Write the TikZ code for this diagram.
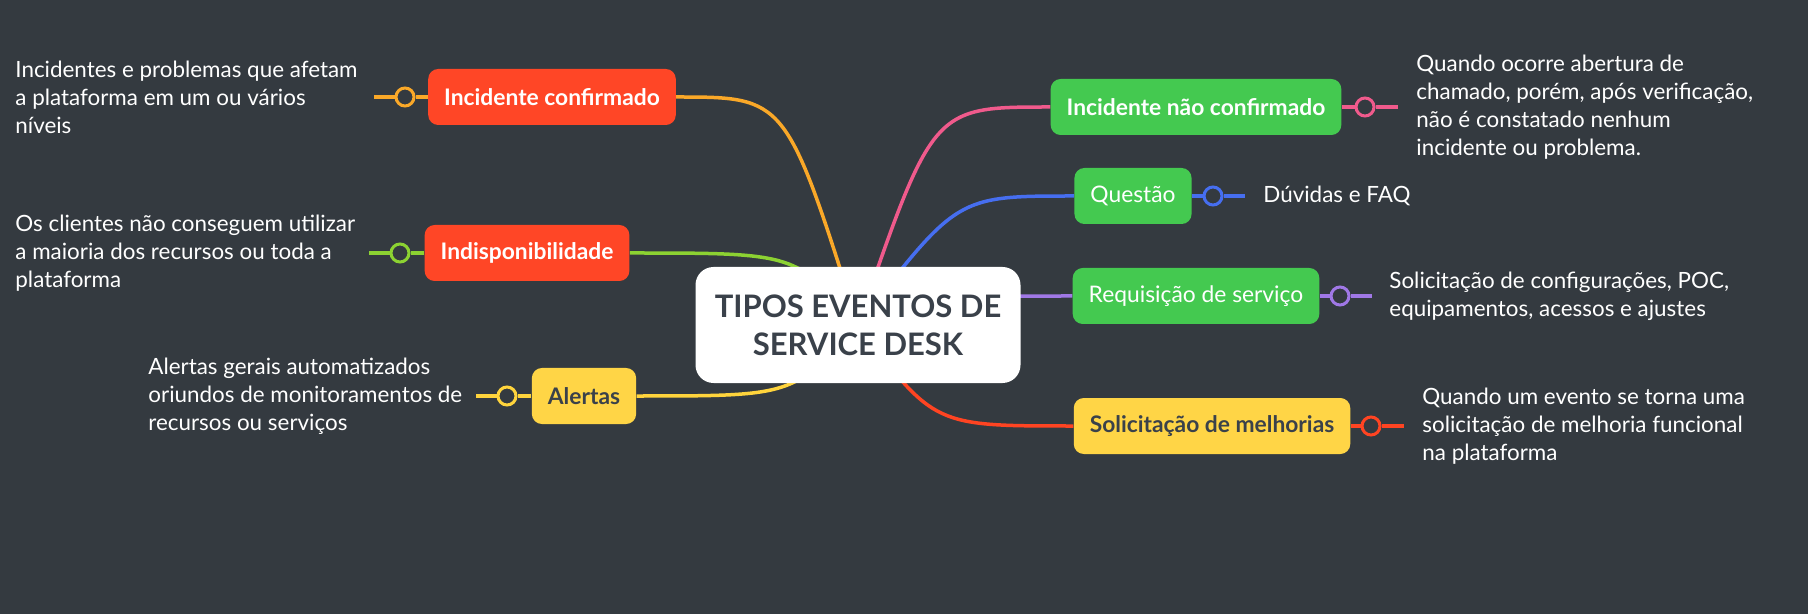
\documentclass[tikz,border=0pt]{standalone}
\usepackage{fontspec}
\setmainfont{Lato}
\usetikzlibrary{positioning}
\definecolor{MapBg}{RGB}{52,58,64}
\definecolor{MapInk}{RGB}{58,65,74}
\definecolor{TopicRed}{RGB}{255,70,38}
\definecolor{TopicGreen}{RGB}{68,201,80}
\definecolor{TopicYellow}{RGB}{255,213,70}
\definecolor{WireOrange}{RGB}{250,168,40}
\definecolor{WireLime}{RGB}{140,210,50}
\definecolor{WireYellow}{RGB}{255,212,60}
\definecolor{WirePink}{RGB}{240,90,140}
\definecolor{WireBlue}{RGB}{70,110,240}
\definecolor{WirePurple}{RGB}{160,120,230}
\definecolor{WireRed}{RGB}{255,68,34}
\pgfdeclarelayer{back}
\pgfsetlayers{back,main}

\begin{document}
\begin{tikzpicture}[
x=0.5pt,
y=-0.5pt,
hub/.style={
fill=white,
rounded corners=9pt,
minimum width=162.5pt,
minimum height=58pt,
align=center,
text=MapInk,
font=\fontsize{15.5}{19}\selectfont\bfseries
},
topic/.style={
fill=#1,
rounded corners=5pt,
minimum height=28pt,
inner xsep=8pt,
font=\fontsize{11.4}{13}\selectfont
},
bold topic/.style={
topic=#1,
font=\fontsize{11.4}{13}\selectfont\bfseries
},
knob/.style={
circle,
draw=#1,
line width=1.5pt,
fill=MapBg,
minimum size=9pt,
inner sep=0pt
},
wire/.style={
draw=#1,
line width=1.75pt
},
note/.style={
align=left,
text=white,
inner sep=0pt,
font=\fontsize{11.2}{14}\selectfont
}
]

\useasboundingbox (0,0) rectangle (1808,614);

% central topic
\node[hub] (root) at (858,325) {TIPOS EVENTOS DE\\SERVICE DESK};

% left side
\node[bold topic=TopicRed, text=white] (ic) at (552,97) {Incidente confirmado};
\node[bold topic=TopicRed, text=white] (ind) at (527,253) {Indisponibilidade};
\node[bold topic=TopicYellow, text=MapInk] (al) at (584,396) {Alertas};

\node[knob=WireOrange] (ick) at (405,97) {};
\node[knob=WireLime] (indk) at (400,253) {};
\node[knob=WireYellow] (alk) at (507,396) {};
\coordinate (icend) at (374,97);
\coordinate (indend) at (369,253);
\coordinate (alend) at (476,396);

\node[note, anchor=west] (icnote) at (15,97) {Incidentes e problemas que afetam\\a plataforma em um ou vários\\níveis};
\node[note, anchor=west] (indnote) at (15,253) {Os clientes não conseguem utilizar\\a maioria dos recursos ou toda a\\plataforma};
\node[note, anchor=west] (alnote) at (148,396) {Alertas gerais automatizados\\oriundos de monitoramentos de\\recursos ou serviços};

% right side
\node[bold topic=TopicGreen, text=white] (inc) at (1196,107) {Incidente não confirmado};
\node[topic=TopicGreen, text=white] (q) at (1133,196) {Questão};
\node[topic=TopicGreen, text=white] (rs) at (1196,296) {Requisição de serviço};
\node[bold topic=TopicYellow, text=MapInk] (sm) at (1212,426) {Solicitação de melhorias};

\node[knob=WirePink] (inck) at (1365,107) {};
\node[knob=WireBlue] (qk) at (1213,196) {};
\node[knob=WirePurple] (rsk) at (1340,296) {};
\node[knob=WireRed] (smk) at (1371,426) {};
\coordinate (incend) at (1398,107);
\coordinate (qend) at (1245,196);
\coordinate (rsend) at (1372,296);
\coordinate (smend) at (1404,426);

\node[note, anchor=west] (incnote) at (1416,107) {Quando ocorre abertura de\\chamado, porém, após verificação,\\não é constatado nenhum\\incidente ou problema.};
\node[note, anchor=west] (qnote) at (1263,196) {Dúvidas e FAQ};
\node[note, anchor=west] (rsnote) at (1389,296) {Solicitação de configurações, POC,\\equipamentos, acessos e ajustes};
\node[note, anchor=west] (smnote) at (1422,426) {Quando um evento se torna uma\\solicitação de melhoria funcional\\na plataforma};

\begin{pgfonlayer}{back}
\fill[MapBg] (0,0) rectangle (1808,614);
% branches
\draw[wire=WireOrange] (root.center) .. controls (786,97) .. (ic.east);
\draw[wire=WireLime] (root.center) .. controls (796,253) .. (ind.east);
\draw[wire=WireYellow] (root.center) .. controls (793,396) .. (al.east);
\draw[wire=WirePink] (root.center) .. controls (933,107) .. (inc.west);
\draw[wire=WireBlue] (root.center) .. controls (957,196) .. (q.west);
\draw[wire=WirePurple] (root.center) .. controls (960,296) .. (rs.west);
\draw[wire=WireRed] (root.center) .. controls (934,426) .. (sm.west);
% stubs
\draw[wire=WireOrange] (ic) -- (ick) -- (icend);
\draw[wire=WireLime] (ind) -- (indk) -- (indend);
\draw[wire=WireYellow] (al) -- (alk) -- (alend);
\draw[wire=WirePink] (inc) -- (inck) -- (incend);
\draw[wire=WireBlue] (q) -- (qk) -- (qend);
\draw[wire=WirePurple] (rs) -- (rsk) -- (rsend);
\draw[wire=WireRed] (sm) -- (smk) -- (smend);
\end{pgfonlayer}
\end{tikzpicture}
\end{document}
